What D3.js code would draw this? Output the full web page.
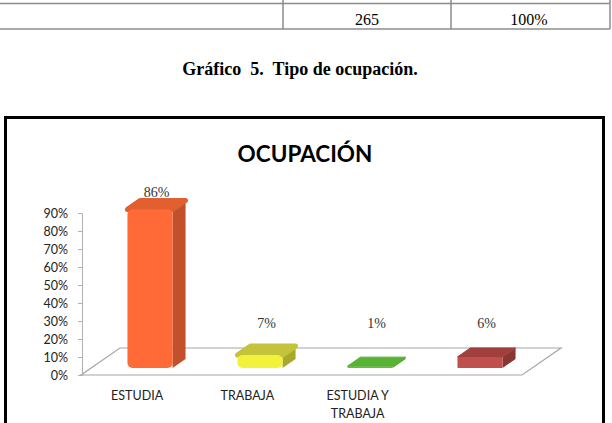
<!DOCTYPE html>
<html>
<head>
<meta charset="utf-8">
<script src="https://d3js.org/d3.v7.min.js"></script>
<style>
  body { margin: 0; background: #fff; }
  svg { display: block; }
</style>
</head>
<body>
<script>
    var w = 612;
    var h = 423;

    // data
    var categories = ["ESTUDIA", "TRABAJA", "ESTUDIA Y TRABAJA", ""];
    var values = [0.86, 0.07, 0.01, 0.06];
    var yTicks = [0, 0.1, 0.2, 0.3, 0.4, 0.5, 0.6, 0.7, 0.8, 0.9];
    var frontColors = ["#ff6a36", "#f2f23a", "#63bd3e", "#c0504d"];
    var topColors = ["#e2602f", "#c4c43a", "#58b236", "#a13f3c"];
    var sideColors = ["#c2502a", "#a8a82a", "#4e9a30", "#8c3634"];
    var tableCells = ["265", "100%"];

    var pct = d3.format(".0%");

    var svg = d3.select("body").append("svg")
        .attr("width", w)
        .attr("height", h);

    // bit of the table above the chart
    var tbl = svg.append("g").attr("stroke", "#8c8c8c").attr("stroke-width", 1.5);
    tbl.append("line").attr("x1", 0).attr("x2", 610).attr("y1", 3.5).attr("y2", 3.5);
    tbl.append("line").attr("x1", 0).attr("x2", 610).attr("y1", 29).attr("y2", 29);
    [283, 451, 610].forEach(function (x) {
        tbl.append("line").attr("x1", x).attr("x2", x).attr("y1", 0).attr("y2", 29);
    });
    svg.selectAll("text.cell")
        .data(tableCells)
        .enter().append("text")
        .attr("class", "cell")
        .attr("x", function (d, i) { return i == 0 ? 367 : 529; })
        .attr("y", 25)
        .attr("text-anchor", "middle")
        .style("font-family", "'Liberation Serif', 'Times New Roman', serif")
        .style("font-size", "16px")
        .text(function (d) { return d; });

    // caption
    svg.append("text")
        .attr("x", 300)
        .attr("y", 75)
        .attr("text-anchor", "middle")
        .style("white-space", "pre")
        .style("font-family", "'Liberation Serif', 'Times New Roman', serif")
        .style("font-weight", "bold")
        .style("font-size", "18px")
        .text("Gráfico  5.  Tipo de ocupación.");

    // chart frame
    svg.append("rect")
        .attr("x", 5.5).attr("y", 117.5)
        .attr("width", 598).attr("height", 320)
        .attr("fill", "none")
        .attr("stroke", "#000")
        .attr("stroke-width", 3);

    svg.append("text")
        .attr("x", 305)
        .attr("y", 162)
        .attr("text-anchor", "middle")
        .style("font-family", "Lato, 'Open Sans', sans-serif")
        .style("font-weight", "bold")
        .style("font-size", "22.5px")
        .text("OCUPACIÓN");

    // scales
    var y = d3.scaleLinear().domain([0, 0.9]).range([375, 213]);
    var barH = d3.scaleLinear().domain([0, 0.9]).range([0, 166]);
    var x = d3.scaleBand().domain(d3.range(categories.length)).range([95, 535])
        .paddingInner(0.59).paddingOuter(0.295);
    var xl = d3.scaleBand().domain(d3.range(categories.length)).range([81, 522]);
    var base = 368;
    var dx = 13, dy = -9;

    // floor
    var x0 = 81, x1 = 522, fdx = 39, fdy = -27;
    svg.append("polygon")
        .attr("points", [[x0, 375], [x1, 375], [x1 + fdx, 375 + fdy], [x0 + fdx, 375 + fdy]].join(" "))
        .attr("fill", "none")
        .attr("stroke", "#a6a6a6")
        .attr("stroke-width", 1.2);

    // y axis
    var yAxis = d3.axisLeft(y)
        .tickValues(yTicks)
        .tickFormat(pct)
        .tickSize(4)
        .tickPadding(10);
    var ay = svg.append("g").attr("transform", "translate(82,0)").call(yAxis);
    ay.selectAll("path, line").attr("stroke", "#b0b0b0");
    ay.selectAll("text")
        .attr("fill", "#222")
        .style("font-family", "Lato, 'Open Sans', sans-serif")
        .style("font-size", "12.5px");

    // bars
    var bars = svg.selectAll("g.bar")
        .data(values)
        .enter().append("g")
        .attr("class", "bar");

    bars.each(function (v, i) {
        var g = d3.select(this);
        var bx = x(i), bw = x.bandwidth();
        var top = base - barH(v);
        var r = i < 2 ? 5 : 1;
        // side
        g.append("polygon")
            .attr("points", [[bx + bw, top], [bx + bw + dx, top + dy], [bx + bw + dx, base + dy], [bx + bw, base]].join(" "))
            .attr("fill", sideColors[i]);
        // top
        g.append("polygon")
            .attr("points", [[bx, top], [bx + dx, top + dy], [bx + bw + dx, top + dy], [bx + bw, top]].join(" "))
            .attr("fill", topColors[i])
            .attr("stroke", topColors[i])
            .attr("stroke-linejoin", "round")
            .attr("stroke-width", r);
        // front
        g.append("rect")
            .attr("x", bx).attr("y", top)
            .attr("width", bw).attr("height", Math.max(base - top, 1))
            .attr("rx", Math.min(r, (base - top) / 2))
            .attr("fill", frontColors[i]);
    });

    // value labels
    svg.selectAll("text.val")
        .data(values)
        .enter().append("text")
        .attr("class", "val")
        .attr("x", function (d, i) { return x(i) + x.bandwidth() / 2 + dx / 2; })
        .attr("y", function (d) { return Math.min(base - barH(d) + dy - 3, 328); })
        .attr("text-anchor", "middle")
        .attr("fill", "#333")
        .style("font-family", "'Liberation Serif', 'Times New Roman', serif")
        .style("font-size", "14px")
        .text(function (d) { return pct(d); });

    // category labels (wrapped on "Y ")
    var cat = svg.selectAll("text.cat")
        .data(categories)
        .enter().append("text")
        .attr("class", "cat")
        .attr("x", function (d, i) { return xl(i) + xl.bandwidth() / 2 + 1; })
        .attr("y", 400)
        .attr("text-anchor", "middle")
        .attr("fill", "#222")
        .style("font-family", "Lato, 'Open Sans', sans-serif")
        .style("font-size", "12.5px");
    cat.each(function (d) {
        var t = d3.select(this);
        var parts = d.indexOf(" Y ") > 0 ? [d.slice(0, d.indexOf(" Y ") + 2), d.slice(d.indexOf(" Y ") + 3)] : [d];
        parts.forEach(function (p, k) {
            t.append("tspan")
                .attr("x", t.attr("x"))
                .attr("dy", k == 0 ? 0 : 18)
                .text(p);
        });
    });
</script>
</body>
</html>
